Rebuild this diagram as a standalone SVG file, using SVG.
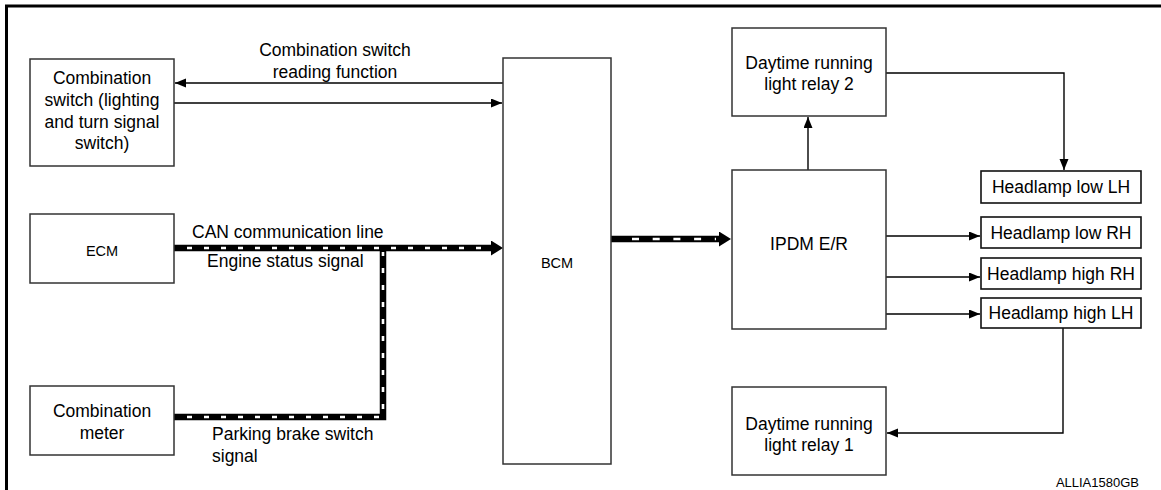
<svg xmlns="http://www.w3.org/2000/svg" width="1161" height="490" viewBox="0 0 1161 490">
<style>
  text { font-family: "Liberation Sans", Arial, Helvetica, sans-serif; font-size: 17.5px; fill: #000; }
  .c { text-anchor: middle; }
  .sm { font-size: 14.5px; }
  .box { fill: #fff; stroke: #333; stroke-width: 1.5; }
  .hl { fill: #fff; stroke: #111; stroke-width: 1.6; }
  .ln { fill: none; stroke: #000; stroke-width: 1.4; }
  .can { fill: none; stroke: #000; stroke-width: 6.5; }
  .canw { fill: none; stroke: #fff; stroke-width: 2.6; }
</style>
<defs>
  <marker id="ah" markerUnits="userSpaceOnUse" markerWidth="12" markerHeight="10" refX="11" refY="4.5" orient="auto">
    <path d="M0,0 L11,4.5 L0,9 z" fill="#000"/>
  </marker>
  <marker id="ahb" markerUnits="userSpaceOnUse" markerWidth="13" markerHeight="16" refX="0" refY="7.5" orient="auto">
    <path d="M0,0 L12,7.5 L0,15 z" fill="#000"/>
  </marker>
</defs>

<!-- frame -->
<path d="M6.5,490 V6 H1161" fill="none" stroke="#000" stroke-width="3"/>

<g id="connectors">
  <line class="ln" x1="503" y1="83" x2="175" y2="83" marker-end="url(#ah)"/>
  <line class="ln" x1="174" y1="103" x2="502" y2="103" marker-end="url(#ah)"/>
  <line class="ln" x1="808" y1="170" x2="808" y2="117" marker-end="url(#ah)"/>
  <path class="ln" d="M886,73 H1064 V170" marker-end="url(#ah)"/>
  <line class="ln" x1="886" y1="236" x2="980" y2="236" marker-end="url(#ah)"/>
  <line class="ln" x1="886" y1="277" x2="980" y2="277" marker-end="url(#ah)"/>
  <line class="ln" x1="886" y1="314" x2="980" y2="314" marker-end="url(#ah)"/>
  <path class="ln" d="M1063,328 V433 H887" marker-end="url(#ah)"/>

  <!-- CAN lines -->
  <path class="can" d="M174,417 H383 V248"/>
  <path class="can" d="M174,248 H491" marker-end="url(#ahb)"/>
  <path class="can" d="M611,239 H719" marker-end="url(#ahb)"/>
  <path class="canw" d="M187,248 H488" stroke-dasharray="5 12"/>
  <path class="canw" d="M187,417 H383 V252" stroke-dasharray="5 12"/>
  <path class="canw" d="M632,239 H716" stroke-dasharray="7 13.7"/>
</g>

<g id="comb-switch">
  <rect class="box" x="30" y="59" width="144" height="107"/>
  <text class="c" x="102" y="84">Combination</text>
  <text class="c" x="102" y="106">switch (lighting</text>
  <text class="c" x="102" y="127.5">and turn signal</text>
  <text class="c" x="102" y="149">switch)</text>
</g>

<g id="label-reading">
  <text class="c" x="335" y="56">Combination switch</text>
  <text class="c" x="335" y="77.5">reading function</text>
</g>

<g id="ecm">
  <rect class="box" x="30" y="214" width="144" height="69"/>
  <text class="c sm" x="102" y="256">ECM</text>
</g>

<g id="label-can">
  <text x="192" y="238">CAN communication line</text>
  <text x="207" y="267">Engine status signal</text>
</g>

<g id="comb-meter">
  <rect class="box" x="30" y="386" width="144" height="69"/>
  <text class="c" x="102" y="417">Combination</text>
  <text class="c" x="102" y="438.5">meter</text>
</g>

<g id="label-parking">
  <text x="212" y="440">Parking brake switch</text>
  <text x="212" y="462">signal</text>
</g>

<g id="bcm">
  <rect class="box" x="503" y="58" width="108" height="406"/>
  <text class="c sm" x="557" y="268">BCM</text>
</g>

<g id="drl2">
  <rect class="box" x="732" y="28" width="154" height="88"/>
  <text class="c" x="809" y="69">Daytime running</text>
  <text class="c" x="809" y="89.5">light relay 2</text>
</g>

<g id="ipdm">
  <rect class="box" x="732" y="170" width="154" height="159"/>
  <text class="c" x="809" y="249.5">IPDM E/R</text>
</g>

<g id="hl-low-lh">
  <rect class="hl" x="981" y="171" width="160" height="32"/>
  <text class="c" x="1061" y="193">Headlamp low LH</text>
</g>
<g id="hl-low-rh">
  <rect class="hl" x="981" y="217" width="160" height="31"/>
  <text class="c" x="1061" y="238.5">Headlamp low RH</text>
</g>
<g id="hl-high-rh">
  <rect class="hl" x="981" y="258" width="160" height="31"/>
  <text class="c" x="1061" y="279.5">Headlamp high RH</text>
</g>
<g id="hl-high-lh">
  <rect class="hl" x="981" y="298" width="160" height="30"/>
  <text class="c" x="1061" y="319">Headlamp high LH</text>
</g>

<g id="drl1">
  <rect class="box" x="732" y="387" width="154" height="88"/>
  <text class="c" x="809" y="429.5">Daytime running</text>
  <text class="c" x="809" y="450.5">light relay 1</text>
</g>

<text x="1139" y="487" text-anchor="end" style="font-size:13px">ALLIA1580GB</text>
</svg>
